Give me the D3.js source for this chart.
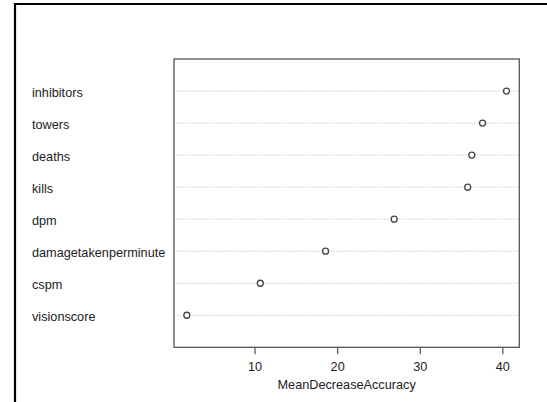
<!DOCTYPE html>
<html><head><meta charset="utf-8">
<script src="https://cdn.jsdelivr.net/npm/d3@7"></script>
<style>html,body{margin:0;padding:0;background:#fff;}svg{display:block;}</style>
</head><body>
<svg id="c" width="547" height="402"></svg>
<script>
const categories = ["inhibitors","towers","deaths","kills","dpm","damagetakenperminute","cspm","visionscore"];
const values = [40.5, 37.6, 36.3, 35.8, 26.9, 18.6, 10.7, 1.8];
const xTicks = [10, 20, 30, 40];
const xTitle = "MeanDecreaseAccuracy";

(function(){
const svg = d3.select("#c");
const pL = 174, pR = 519.3, pT = 59, pB = 347.3;
const font = "Liberation Sans, Arial, sans-serif";

// outer frame (left and top edges visible)
svg.append("line").attr("x1",15).attr("x2",15).attr("y1",3).attr("y2",402).attr("stroke","#000").attr("stroke-width",2.2);
svg.append("line").attr("x1",14).attr("x2",547).attr("y1",4).attr("y2",4).attr("stroke","#000").attr("stroke-width",2.2);

const ext = d3.extent(values);
const pad = (ext[1]-ext[0])*0.04;
const x = d3.scaleLinear().domain([ext[0]-pad, ext[1]+pad]).range([pL, pR]);
const n = categories.length;
const y = d3.scaleLinear().domain([0, n+1]).range([pB, pT]);
const rowY = (i) => y(n - i);

// gridlines
svg.append("g").selectAll("line").data(categories).join("line")
  .attr("x1", pL).attr("x2", pR)
  .attr("y1", (d,i)=>rowY(i)).attr("y2", (d,i)=>rowY(i))
  .attr("stroke","#c8c8c8").attr("stroke-width",1).attr("stroke-dasharray","1.5,1.5");

// points
svg.append("g").selectAll("circle").data(values).join("circle")
  .attr("cx", d=>x(d)).attr("cy", (d,i)=>rowY(i)).attr("r", 3)
  .attr("fill","#fff").attr("stroke","#444").attr("stroke-width",1.3);

// box
svg.append("rect").attr("x",pL).attr("y",pT).attr("width",pR-pL).attr("height",pB-pT)
  .attr("fill","none").attr("stroke","#555").attr("stroke-width",1.3);

// labels
svg.append("g").selectAll("text").data(categories).join("text")
  .attr("x", 32).attr("y", (d,i)=>rowY(i)+5.5)
  .attr("font-family", font).attr("font-size", 12.7).attr("fill","#222")
  .text(d=>d);

// x axis
const ax = svg.append("g").attr("transform",`translate(0,${pB})`)
  .call(d3.axisBottom(x).tickValues(xTicks).tickSize(7).tickPadding(8).tickFormat(d3.format("d")));
ax.select(".domain").remove();
ax.selectAll(".tick line").attr("stroke","#555").attr("stroke-width",1.2);
ax.selectAll(".tick text").attr("font-family",font).attr("font-size",12.7).attr("fill","#222");

svg.append("text").attr("x",(pL+pR)/2).attr("y",388.5).attr("text-anchor","middle")
  .attr("font-family",font).attr("font-size",12.7).attr("fill","#222").text(xTitle);
})();
</script>
</body></html>
